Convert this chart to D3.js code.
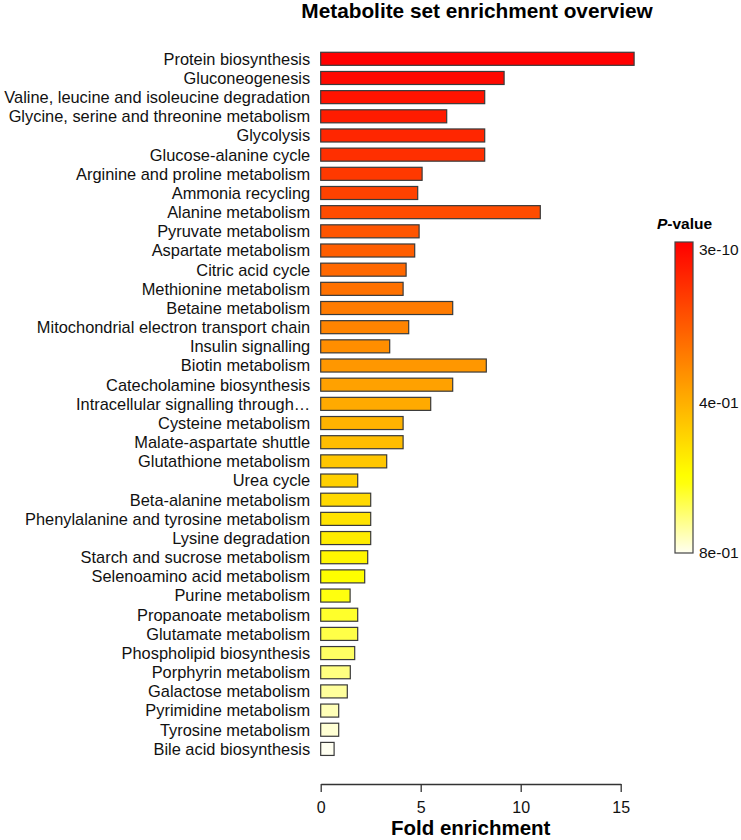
<!DOCTYPE html>
<html>
<head>
<meta charset="utf-8">
<script src="https://cdn.jsdelivr.net/npm/d3@7"></script>
<style>
  html, body { margin: 0; padding: 0; background: #fff; }
  svg { display: block; font-family: "Liberation Sans", Arial, sans-serif; }
</style>
</head>
<body>
<svg id="chart" width="741" height="840"></svg>
<script>
const categories = [
  "Protein biosynthesis",
  "Gluconeogenesis",
  "Valine, leucine and isoleucine degradation",
  "Glycine, serine and threonine metabolism",
  "Glycolysis",
  "Glucose-alanine cycle",
  "Arginine and proline metabolism",
  "Ammonia recycling",
  "Alanine metabolism",
  "Pyruvate metabolism",
  "Aspartate metabolism",
  "Citric acid cycle",
  "Methionine metabolism",
  "Betaine metabolism",
  "Mitochondrial electron transport chain",
  "Insulin signalling",
  "Biotin metabolism",
  "Catecholamine biosynthesis",
  "Intracellular signalling through\u2026",
  "Cysteine metabolism",
  "Malate-aspartate shuttle",
  "Glutathione metabolism",
  "Urea cycle",
  "Beta-alanine metabolism",
  "Phenylalanine and tyrosine metabolism",
  "Lysine degradation",
  "Starch and sucrose metabolism",
  "Selenoamino acid metabolism",
  "Purine metabolism",
  "Propanoate metabolism",
  "Glutamate metabolism",
  "Phospholipid biosynthesis",
  "Porphyrin metabolism",
  "Galactose metabolism",
  "Pyrimidine metabolism",
  "Tyrosine metabolism",
  "Bile acid biosynthesis"
];

const foldEnrichment = [
  15.67, 9.17, 8.2, 6.3, 8.2, 8.2, 5.07, 4.85, 10.98, 4.92,
  4.7, 4.27, 4.12, 6.6, 4.4, 3.45, 8.28, 6.6, 5.5, 4.12,
  4.12, 3.3, 1.85, 2.5, 2.5, 2.5, 2.35, 2.2, 1.47, 1.85,
  1.85, 1.7, 1.48, 1.33, 0.9, 0.9, 0.67
];

const xTicks = [0, 5, 10, 15];
const legendLabels = ["3e-10", "4e-01", "8e-01"];
const titleText = "Metabolite set enrichment overview";
const xAxisTitle = "Fold enrichment";

// R heat.colors(n) palette (bars are coloured by p-value rank)
function heatColors(n) {
  const j = Math.floor(n / 4), i = n - j;
  const out = [];
  for (let k = 0; k < i; k++) {
    const h = i > 1 ? k / (i - 1) * 60 : 0;
    out.push(d3.rgb(255, Math.round(255 * h / 60), 0).formatHex());
  }
  for (let k = 0; k < j; k++) {
    const s = j > 1 ? (1 - 1 / (2 * j)) - k * ((1 - 1 / j) / (j - 1)) : 0.5;
    out.push(d3.rgb(255, 255, Math.round(255 * (1 - s))).formatHex());
  }
  return out;
}
const colors = heatColors(categories.length);

const svg = d3.select("#chart");

const x = d3.scaleLinear().domain([0, 15]).range([320.7, 620.7]);
const step = 19.17;
const y = d3.scaleBand()
  .domain(categories)
  .range([58.8 - step / 2, 58.8 - step / 2 + step * categories.length])
  .paddingInner(0.32)
  .paddingOuter(0.16);

// title
svg.append("text")
  .attr("x", 477).attr("y", 18)
  .attr("text-anchor", "middle")
  .attr("font-weight", "bold")
  .attr("font-size", 20.8)
  .text(titleText);

// bars
svg.append("g").selectAll("rect")
  .data(categories)
  .join("rect")
  .attr("x", x(0))
  .attr("y", d => y(d))
  .attr("width", (d, i) => x(foldEnrichment[i]) - x(0))
  .attr("height", y.bandwidth())
  .attr("fill", (d, i) => colors[i])
  .attr("stroke", "#3a3a3a")
  .attr("stroke-width", 1.2);

// category labels
svg.append("g").selectAll("text")
  .data(categories)
  .join("text")
  .attr("x", x(0) - 10.5)
  .attr("y", d => y(d) + y.bandwidth() / 2)
  .attr("dy", "0.36em")
  .attr("text-anchor", "end")
  .attr("font-size", 16.4)
  .attr("fill", "#111")
  .text(d => d);

// x axis
const axisY = 784;
const xAxis = svg.append("g")
  .attr("transform", `translate(0,${axisY})`)
  .call(d3.axisBottom(x).tickValues(xTicks).tickFormat(d3.format("d")).tickSize(8).tickSizeOuter(0).tickPadding(10));
xAxis.select(".domain").attr("stroke", "#333").attr("stroke-width", 1.3);
xAxis.selectAll(".tick line").attr("stroke", "#333").attr("stroke-width", 1.3);
xAxis.selectAll(".tick text")
  .attr("font-size", 16)
  .attr("font-family", "'Liberation Sans', Arial, sans-serif")
  .attr("fill", "#111");

svg.append("text")
  .attr("x", (x(0) + x(15)) / 2).attr("y", 835)
  .attr("text-anchor", "middle")
  .attr("font-weight", "bold")
  .attr("font-size", 20.5)
  .text(xAxisTitle);

// legend
const lgX = 675, lgW = 18, lgTop = 242, lgBot = 553;
const defs = svg.append("defs");
const grad = defs.append("linearGradient")
  .attr("id", "heatgrad")
  .attr("x1", 0).attr("y1", 0).attr("x2", 0).attr("y2", 1);
grad.selectAll("stop")
  .data(colors)
  .join("stop")
  .attr("offset", (d, i) => i / (colors.length - 1))
  .attr("stop-color", d => d);

svg.append("rect")
  .attr("x", lgX).attr("y", lgTop)
  .attr("width", lgW).attr("height", lgBot - lgTop)
  .attr("fill", "url(#heatgrad)")
  .attr("stroke", "#444")
  .attr("stroke-width", 1.2);

const legTitle = svg.append("text")
  .attr("x", 684.5).attr("y", 229)
  .attr("text-anchor", "middle")
  .attr("font-weight", "bold")
  .attr("font-size", 15.5);
legTitle.append("tspan").attr("font-style", "italic").text("P");
legTitle.append("tspan").text("-value");

const legLabelY = [255, 408, 558];
svg.append("g").selectAll("text")
  .data(legendLabels)
  .join("text")
  .attr("x", 699)
  .attr("y", (d, i) => legLabelY[i])
  .attr("font-size", 15.5)
  .attr("fill", "#111")
  .text(d => d);
</script>
</body>
</html>
